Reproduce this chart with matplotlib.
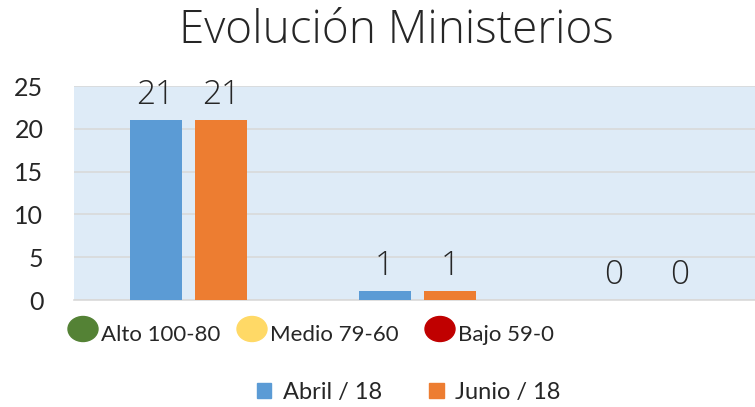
import matplotlib
matplotlib.use("Agg")
import matplotlib.pyplot as plt
from matplotlib.patches import Ellipse, Rectangle
import numpy as np

# datos
categorias = ["Alto 100-80", "Medio 79-60", "Bajo 59-0"]
colores_cat = ["#548235", "#FFD966", "#C00000"]
series = ["Abril / 18", "Junio / 18"]
abril = [21, 1, 0]
junio = [21, 1, 0]
colores = ["#5B9BD5", "#ED7D31"]

plt.rcParams.update({"font.family": ["Lato", "DejaVu Sans"]})
FINA = ["Open Sans", "DejaVu Sans"]

W, H = 755, 407
fig = plt.figure(figsize=(W / 100, H / 100), dpi=100)
ax = fig.add_axes([74 / W, 1 - 300 / H, (761 - 74) / W, (300 - 86) / H])
ax.set_facecolor("#DEEBF7")

x = np.arange(len(categorias))
ancho = 0.227
desp = 0.144
for vals, col, sgn, nom in zip([abril, junio], colores, [-1, 1], series):
    barras = ax.bar(x + sgn * desp, vals, ancho, color=col, label=nom, zorder=3)
    for b, v in zip(barras, vals):
        ax.annotate(str(v), xy=(b.get_x() + b.get_width() / 2, v),
                    xytext=(0, 6), textcoords="offset points",
                    ha="center", va="bottom", fontsize=24, fontweight="light",
                    family=FINA, color="#262626")

ax.set_xlim(-0.5, 2.5)
ax.set_ylim(0, 25)
ax.set_yticks(range(0, 26, 5))
ax.yaxis.grid(True, color="#D9D9D9", linewidth=1.2, zorder=0)
ax.set_axisbelow(True)
ax.set_xticks([])
ax.tick_params(axis="y", length=0, labelsize=18, labelcolor="#262626", pad=22)
for s in ["top", "right", "left"]:
    ax.spines[s].set_visible(False)
ax.spines["bottom"].set_color("#D9D9D9")
ax.spines["bottom"].set_linewidth(1.2)

fig.text(396 / W, 1 - 31 / H, "Evolución Ministerios", ha="center", va="center",
         fontsize=33, fontweight="light", family=FINA, color="#262626")

# etiquetas de categoría con óvalo de color
elipse_x = [83, 252, 440]
for cat, col, ex in zip(categorias, colores_cat, elipse_x):
    fig.patches.append(Ellipse((ex / W, 1 - 329 / H), 30 / W, 25 / H,
                               transform=fig.transFigure, color=col))
    fig.text((ex + 18) / W, 1 - 335 / H, cat, ha="left", va="center",
             fontsize=16, color="#262626")

# leyenda
ley = fig.legend(handles=[Rectangle((0, 0), 1, 1, color=c) for c in colores],
                 labels=series, loc="center", bbox_to_anchor=(409 / W, 1 - 392 / H),
                 ncol=2, frameon=False, fontsize=17, handlelength=0.6,
                 handleheight=0.6, handletextpad=0.5, columnspacing=2.0)
for t in ley.get_texts():
    t.set_color("#262626")

fig.savefig("out.png", dpi=100, facecolor="white")
